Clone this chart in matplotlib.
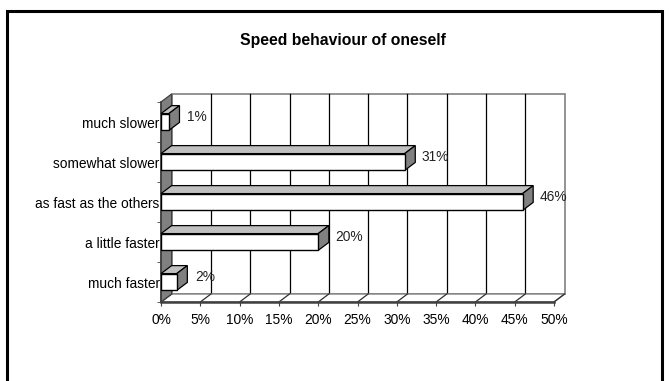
import matplotlib
matplotlib.use('Agg')
import matplotlib.pyplot as plt
from matplotlib.patches import Polygon, Rectangle

plt.rcParams['font.family'] = ['Liberation Sans', 'DejaVu Sans']

# survey answers, bottom to top
categories = ['much faster', 'a little faster', 'as fast as the others',
              'somewhat slower', 'much slower']
values = [2, 20, 46, 31, 1]
xticks = [0, 5, 10, 15, 20, 25, 30, 35, 40, 45, 50]
title = 'Speed behaviour of oneself'

W, H = 669, 381
DX, DY = 1.35, 0.2     # depth of the 3D look (x in %, y in category units)
BH = 0.42              # bar thickness

fig = plt.figure(figsize=(W / 100, H / 100), dpi=100)
fig.patch.set_facecolor('white')

# outer chart frame
fig.patches.append(Rectangle((7 / W, -0.05), 655 / W, 1.05 - 11 / H,
                             transform=fig.transFigure, fill=False,
                             edgecolor='black', lw=2.2, clip_on=False))

fig.text(343 / W, 1 - 41 / H, title, ha='center', va='center',
         fontsize=11.3, fontweight='bold')

ax = fig.add_axes([161 / W, 1 - 302 / H, 393 / W, 200 / H])
ax.set_facecolor('none')
ax.set_xlim(0, 50)
ax.set_ylim(-0.5, len(categories) - 0.5)
y0, y1 = -0.5, len(categories) - 0.5
xmax = xticks[-1]

# back wall
ax.add_patch(Polygon([(DX, y0 + DY), (xmax + DX, y0 + DY), (xmax + DX, y1 + DY), (DX, y1 + DY)],
                     closed=True, facecolor='white', edgecolor='#808080', lw=1.2,
                     clip_on=False, zorder=0.5))
for t in xticks[1:-1]:
    ax.plot([t + DX, t + DX], [y0 + DY, y1 + DY], color='black', lw=0.9,
            clip_on=False, zorder=1)

# floor
ax.add_patch(Polygon([(0, y0), (xmax, y0), (xmax + DX, y0 + DY), (DX, y0 + DY)],
                     closed=True, facecolor='white', edgecolor='#808080', lw=1.0,
                     clip_on=False, zorder=1))
for t in xticks:
    ax.plot([t, t + DX], [y0, y0 + DY], color='#303030', lw=0.9,
            clip_on=False, zorder=1.1)

# left wall
ax.add_patch(Polygon([(0, y0), (DX, y0 + DY), (DX, y1 + DY), (0, y1)],
                     closed=True, facecolor='#808080', edgecolor='#404040', lw=0.9,
                     clip_on=False, zorder=1.5))

# bars: front face, top face, side face
for i, v in enumerate(values):
    ax.barh(i, v, height=BH, color='white', edgecolor='black', lw=1.0, zorder=4)
    top = i + BH / 2
    bot = i - BH / 2
    ax.add_patch(Polygon([(0, top), (v, top), (v + DX, top + DY), (DX, top + DY)],
                         closed=True, facecolor='#c0c0c0', edgecolor='black', lw=0.9,
                         clip_on=False, zorder=3))
    ax.add_patch(Polygon([(v, bot), (v + DX, bot + DY), (v + DX, top + DY), (v, top)],
                         closed=True, facecolor='#808080', edgecolor='black', lw=0.9,
                         clip_on=False, zorder=3))
    ax.annotate(f'{v}%', xy=(v + DX, i), xytext=(8 if v < 5 else 6, 5),
                textcoords='offset pixels', ha='left', va='center',
                fontsize=9.9, color='#222222')

# axes and ticks
for s in ['top', 'right']:
    ax.spines[s].set_visible(False)
ax.spines['left'].set_color('#404040')
ax.spines['bottom'].set_color('#404040')
ax.spines['left'].set_linewidth(1.2)
ax.spines['bottom'].set_linewidth(1.8)
ax.spines['left'].set_zorder(2)
ax.spines['bottom'].set_zorder(2)

ax.set_xticks(xticks)
ax.set_xticklabels([f'{t}%' for t in xticks], fontsize=9.9)
ax.set_yticks(range(len(categories)))
ax.set_yticklabels(categories, fontsize=9.9)
ax.set_yticks([k - 0.5 for k in range(len(categories) + 1)], minor=True)
ax.tick_params(axis='y', which='major', length=0, pad=1)
ax.tick_params(axis='y', which='minor', length=3, color='#404040')
ax.tick_params(axis='x', length=3, color='#404040', pad=5)

fig.savefig('out.png', dpi=100)
